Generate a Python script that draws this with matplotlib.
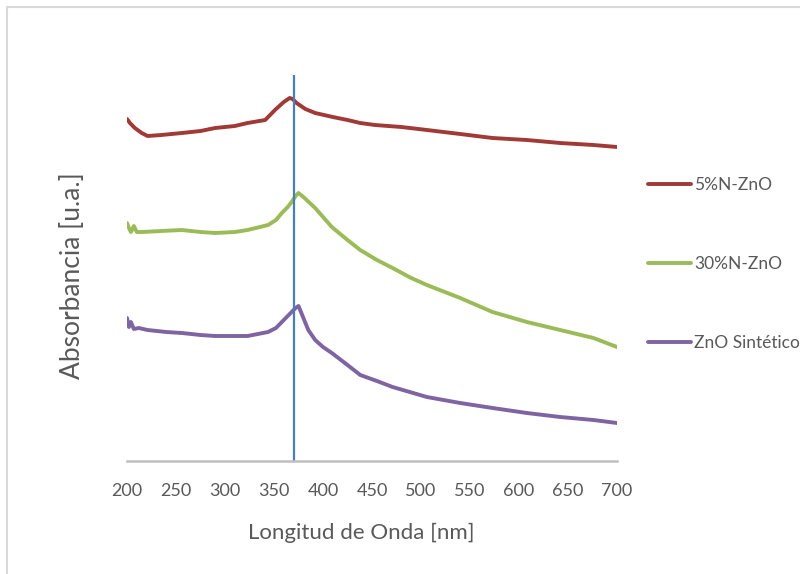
import matplotlib
matplotlib.use('Agg')
import matplotlib.pyplot as plt
from matplotlib.patches import Rectangle
import numpy as np

plt.rcParams['font.family'] = ['Lato', 'DejaVu Sans']

# wavelengths (nm) and absorbance (a.u.)
nm_5n = [200, 203, 208, 215, 221, 235, 256, 275, 290, 310, 323, 341, 351, 360,
         366, 369, 373, 382, 392, 410, 425, 438, 453, 480, 506, 540, 573, 608,
         642, 676, 700]
abs_5n = [3.42, 3.38, 3.33, 3.28, 3.25, 3.26, 3.28, 3.30, 3.33, 3.35, 3.38, 3.41,
          3.51, 3.59, 3.63, 3.62, 3.58, 3.52, 3.48, 3.44, 3.41, 3.38, 3.36, 3.34,
          3.31, 3.27, 3.23, 3.21, 3.18, 3.16, 3.14]

nm_30n = [200, 202, 204, 207, 210, 215, 235, 256, 275, 290, 310, 323, 344, 352,
          358, 364, 368, 372, 375, 380, 392, 409, 425, 438, 455, 471, 490, 506,
          540, 573, 608, 642, 676, 700]
abs_30n = [2.38, 2.33, 2.29, 2.35, 2.29, 2.29, 2.30, 2.31, 2.29, 2.28, 2.29, 2.31,
           2.36, 2.41, 2.48, 2.54, 2.59, 2.65, 2.68, 2.64, 2.53, 2.34, 2.21, 2.11,
           2.01, 1.93, 1.83, 1.76, 1.63, 1.49, 1.39, 1.31, 1.23, 1.14]

nm_zno = [200, 202, 204, 207, 212, 221, 240, 256, 275, 290, 310, 323, 344, 352,
          358, 364, 368, 372, 375, 380, 385, 392, 400, 409, 425, 438, 455, 471,
          506, 540, 573, 608, 642, 676, 700]
abs_zno = [1.43, 1.34, 1.39, 1.32, 1.33, 1.31, 1.29, 1.28, 1.26, 1.25, 1.25, 1.25,
           1.29, 1.33, 1.39, 1.45, 1.49, 1.53, 1.55, 1.43, 1.31, 1.21, 1.14, 1.08,
           0.96, 0.86, 0.80, 0.74, 0.64, 0.58, 0.53, 0.48, 0.44, 0.41, 0.38]

peak_nm = 370
labels = ['5%N-ZnO', '30%N-ZnO', 'ZnO Sintético']
colors = ['#a03a36', '#9bbb59', '#8064a2']
xticks = list(range(200, 701, 50))

fig = plt.figure(figsize=(8, 5.74), dpi=100)
# chart frame (light gray, cropped on the right and bottom)
fig.patches.append(Rectangle((7 / 800, -0.1), 1.2, 1 - 7 / 574 + 0.1,
                             transform=fig.transFigure, fill=False,
                             edgecolor='#d9d9d9', linewidth=1.5))

ax = fig.add_axes([127 / 800, 113 / 574, 490 / 800, 386 / 574])
series = [(nm_5n, abs_5n), (nm_30n, abs_30n), (nm_zno, abs_zno)]
handles = []
for (x, y), lab, c in zip(series, labels, colors):
    h, = ax.plot(x, y, color=c, linewidth=2.8, label=lab, solid_capstyle='round')
    handles.append(h)
ax.axvline(peak_nm, color='#4a7ebb', linewidth=1.6)

ax.set_xlim(200, 700)
ax.set_ylim(0, 3.86)
ax.set_xticks(xticks)
ax.set_yticks([])
for s in ['top', 'right', 'left']:
    ax.spines[s].set_visible(False)
ax.spines['bottom'].set_color('#bfbfbf')
ax.spines['bottom'].set_linewidth(1.8)
ax.tick_params(axis='x', length=0, pad=16, labelsize=13, labelcolor='#595959')

ax.set_xlabel('Longitud de Onda [nm]', fontsize=16, color='#595959')
ax.xaxis.set_label_coords(0.478, -0.16)
ax.set_ylabel('Absorbancia [u.a.]', fontsize=19, color='#595959')
ax.yaxis.set_label_coords(-0.086, 0.48)

fig.legend(handles=handles, labels=labels, loc='upper left',
           bbox_to_anchor=(641 / 800, 1 - 170 / 574), frameon=False,
           fontsize=12.5, labelcolor='#595959', handlelength=2.5,
           handletextpad=0.15, labelspacing=3.63, borderaxespad=0)

fig.savefig('out.png', dpi=100, facecolor='white')
